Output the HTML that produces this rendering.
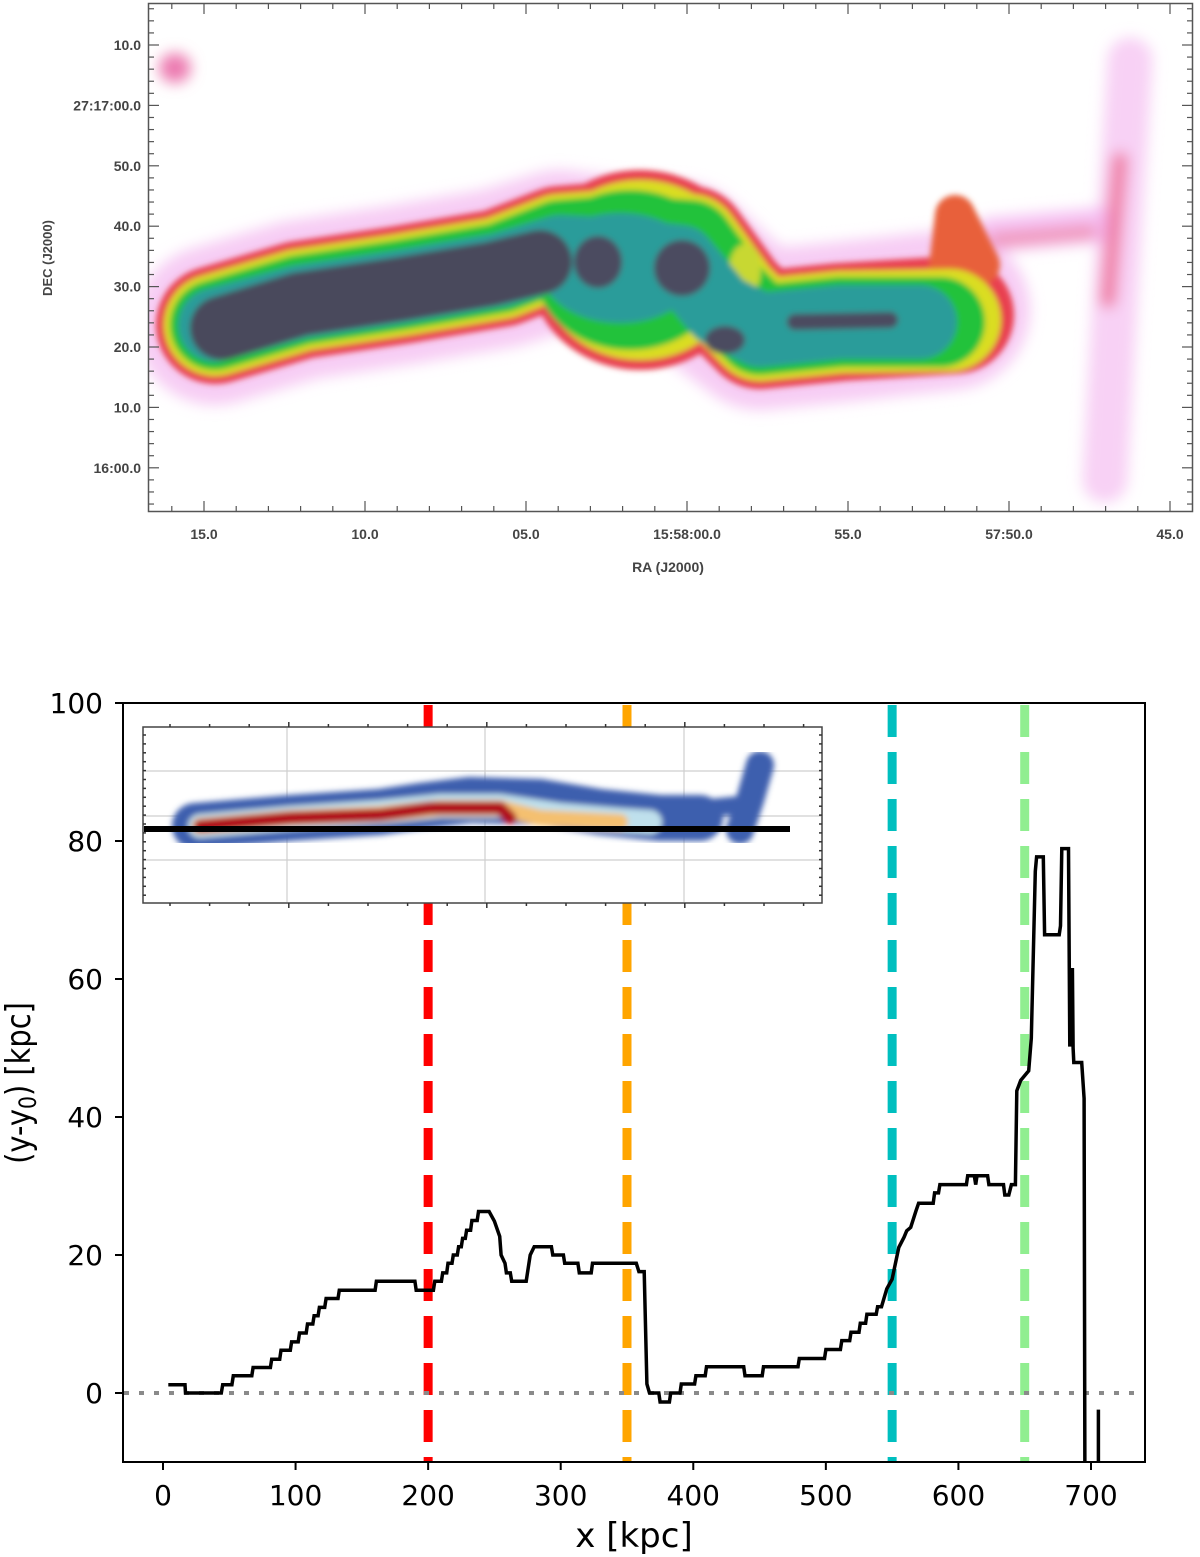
<!DOCTYPE html>
<html><head><meta charset="utf-8"><style>
html,body{margin:0;padding:0;background:#fff;width:1200px;height:1557px;overflow:hidden}
svg{display:block}
</style></head><body>
<svg id="fig" width="1200" height="1557" viewBox="0 0 1200 1557" xmlns="http://www.w3.org/2000/svg">
<defs>
<filter id="blur6" x="-20%" y="-20%" width="140%" height="140%"><feGaussianBlur stdDeviation="7"/></filter>
<filter id="blur3" x="-20%" y="-20%" width="140%" height="140%"><feGaussianBlur stdDeviation="3"/></filter>
<clipPath id="topclip"><rect x="149" y="4" width="1043" height="507"/></clipPath>
<clipPath id="axclip"><rect x="124" y="704" width="1020" height="757"/></clipPath>
<clipPath id="inclip"><rect x="144" y="728" width="677" height="174"/></clipPath>
</defs>

<!-- TOP RADIO MAP -->
<g>
<g clip-path="url(#topclip)" stroke-linecap="round" stroke-linejoin="round" fill="none">
 <g filter="url(#blur6)">
  <path d="M215,325 L300,300 L400,285 L500,268 L560,250 L620,258 L680,262 L720,300 L760,330 L840,322 L950,310" stroke="#f6c4f2" stroke-width="160" opacity="0.85"/>
  <path d="M1105,480 L1115,300 L1130,60" stroke="#f6c6f2" stroke-width="45" opacity="0.8"/>
  <path d="M990,235 L1100,225" stroke="#f4b4f0" stroke-width="35" opacity="0.8"/>
  <ellipse cx="175" cy="68" rx="16" ry="15" fill="#ec7ab0"/>
  <path d="M1108,300 L1120,160" stroke="#ec6a90" stroke-width="16" opacity="0.8"/>
  <path d="M995,240 L1090,232" stroke="#ee8aa8" stroke-width="14" opacity="0.8"/>
 </g>
 <g filter="url(#blur3)">
  <path d="M215,325 L300,300 L400,285 L500,268 L560,245 L620,240 L690,245 L730,300 L760,330 L840,322 L955,315" stroke="#e84050" stroke-width="118"/>
  <ellipse cx="640" cy="270" rx="110" ry="100" fill="#e84050"/>
  <path d="M945,300 L955,215 L980,265" stroke="#e8603a" stroke-width="40"/>
  <path d="M215,325 L300,300 L400,285 L500,268 L560,245 L620,240 L690,245 L730,300 L760,330 L840,322 L950,320" stroke="#dadd22" stroke-width="102"/>
  <ellipse cx="640" cy="270" rx="100" ry="90" fill="#dadd22"/>
  <path d="M215,325 L300,300 L400,285 L500,268 L560,245 L620,240 L690,245 L730,300 L760,330 L840,322 L940,322" stroke="#22c23a" stroke-width="90"/>
  <ellipse cx="630" cy="270" rx="95" ry="80" fill="#22c23a"/>
  <ellipse cx="745" cy="270" rx="16" ry="26" fill="#c8d830"/>
  <path d="M215,325 L300,302 L400,287 L500,270 L560,252 L620,255 L680,262 L720,310 L760,330 L840,322 L920,322" stroke="#2a9c9a" stroke-width="74"/>
  <ellipse cx="620" cy="268" rx="80" ry="55" fill="#2a9c9a"/>
  <path d="M222,328 L300,304 L400,289 L490,274 L540,262" stroke="#4a4a5c" stroke-width="64"/>
  <ellipse cx="598" cy="262" rx="24" ry="26" fill="#4c4c60"/>
  <ellipse cx="682" cy="268" rx="28" ry="28" fill="#4c4c60"/>
  <ellipse cx="725" cy="340" rx="20" ry="14" fill="#4c4c60"/>
  <path d="M795,322 L890,320" stroke="#4c4c60" stroke-width="16"/>
 </g>
</g>
<rect x="148.5" y="3.5" width="1044" height="508" fill="none" stroke="#555" stroke-width="1.5"/>
<g id="topticks" stroke="#555" stroke-width="1.2"></g>
<g font-family="Liberation Sans, sans-serif" font-weight="bold" font-size="14" fill="#444">
 <g text-anchor="middle" id="ralabels"></g>
 <g text-anchor="end" id="declabels"></g>
 <text x="668" y="572" text-anchor="middle">RA (J2000)</text>
 <text transform="translate(52,258) rotate(-90)" text-anchor="middle" font-size="13">DEC (J2000)</text>
</g>
</g>

<!-- BOTTOM CHART -->
<g>
 <g id="vlines" clip-path="url(#axclip)"></g>
 <line id="zeroline" stroke="#8a8a8a" stroke-width="4" stroke-dasharray="5,10"/>
 <g>
  <rect x="143" y="727" width="679" height="176" fill="#fff" stroke="#444" stroke-width="1.5"/>
  <g clip-path="url(#inclip)">
   <g stroke="#cfcfcf" stroke-width="1.2">
    <line x1="287" y1="727" x2="287" y2="903"/><line x1="485" y1="727" x2="485" y2="903"/><line x1="684" y1="727" x2="684" y2="903"/>
    <line x1="143" y1="771" x2="822" y2="771"/><line x1="143" y1="816" x2="822" y2="816"/><line x1="143" y1="860" x2="822" y2="860"/>
   </g>
   <g filter="url(#blur3)" stroke-linecap="round" stroke-linejoin="round" fill="none">
    <path d="M195,826 L290,818 L380,812 L420,806 L470,800 L540,802 L600,812 L660,818 L700,818" stroke="#3d5fae" stroke-width="46"/>
    <path d="M740,830 L750,800 L760,765" stroke="#3d5fae" stroke-width="28"/>
    <path d="M690,810 L740,805" stroke="#3d5fae" stroke-width="18"/>
    <path d="M200,826 L290,818 L380,812 L440,806 L500,806 L560,815 L620,820 L650,822" stroke="#bfe0ec" stroke-width="24"/>
    <path d="M200,826 L290,818 L380,814 L440,808 L500,808 L540,818 L620,822" stroke="#f4c070" stroke-width="16"/>
    <path d="M200,826 L290,818 L380,815 L430,808 L500,808 L510,818" stroke="#b0101e" stroke-width="13"/>
   </g>
   <line x1="143" y1="829" x2="790" y2="829" stroke="#000" stroke-width="6"/>
  </g>
  <g id="insetticks" stroke="#333" stroke-width="1.5"></g>
 </g>
 <path id="offsetline" fill="none" stroke="#000" stroke-width="3.5" stroke-linejoin="miter" clip-path="url(#axclip)"/>
 <rect x="123" y="703" width="1022" height="759" fill="none" stroke="#000" stroke-width="2"/>
 <g id="axticks" stroke="#000" stroke-width="2"></g>
 <g font-family="DejaVu Sans, sans-serif" font-size="28" fill="#000">
  <g id="xlabels" text-anchor="middle"></g>
  <g id="ylabels" text-anchor="end"></g>
  <text x="634" y="1547" text-anchor="middle" font-size="34">x [kpc]</text>
  <text transform="translate(30,1083) rotate(-90) scale(0.85,1)" text-anchor="middle" font-size="34">(y-y<tspan font-size="24" dy="6">0</tspan><tspan dy="-6">) [kpc]</tspan></text>
 </g>
</g>
</svg>
<script>
// ---- top map ticks ----
const raLabels=["15.0","10.0","05.0","15:58:00.0","55.0","57:50.0","45.0"];
const decLabels=["10.0","27:17:00.0","50.0","40.0","30.0","20.0","10.0","16:00.0"];
// ---- bottom chart data ----
const xTicks=[0,100,200,300,400,500,600,700];
const yTicks=[100,80,60,40,20,0];
const markerX=[200,350,550,650];
const markerColors=["#ff0000","#ffa500","#00bfbf","#90ee90"];
const profileX=[4,16.6,17,44,45,52,53,67,68,81,82,88,89,96,97,102,103,108,109,113,114,117,118,122,123,132,133,160,161,190,191,204,205,210,211,214,215,218,219,222,223,225,226,228,229,232,233,237,238,246,250,254,255,258,259,262,263,274,277,280,293,294,302,303,313,314,323,324,357,359,363,365,367,374,375,382,383,390,391,401,402,409,410,438,439,452,453,479,480,499,500,511,512,518,519,525,526,530,531,538,539,542,546,550,555,559,561,564,568,570,581,582,585,586,606,607,612,613,614,622,623,634,635,638,640,643,644,647,653,655,658,659,664,665,676,677,678,683,684,686,686.5,687,693,694.8,695.5];
const profileY=[1.2,1.2,0,0,1.2,1.2,2.5,2.5,3.7,3.7,4.9,4.9,6.2,6.2,7.4,7.4,8.7,8.7,10,10,11.2,11.2,12.4,12.4,13.7,13.7,14.9,14.9,16.2,16.2,14.9,14.9,16.2,16.2,17.4,17.4,18.8,18.8,20,20,21.2,21.2,22.4,22.4,23.6,23.6,25,25,26.3,26.3,24.9,22.7,20,18.8,17.4,17.4,16.2,16.2,20,21.2,21.2,20,20,18.8,18.8,17.4,17.4,18.8,18.8,17.6,17.6,1.3,0,0,-1.3,-1.3,0,0,1.3,1.3,2.5,2.5,3.8,3.8,2.5,2.5,3.8,3.8,5.0,5.0,6.3,6.3,7.6,7.6,8.8,8.8,10.1,10.1,11.4,11.4,12.5,12.5,15.1,16.5,21.1,22.6,23.5,24,26.4,27.5,27.5,29,29,30.2,30.2,31.5,31.5,30.2,31.5,31.5,30.2,30.2,28.7,28.7,30.2,30.2,43.8,45.3,46.7,51.4,75.6,77.7,77.7,66.4,66.4,67.7,78.9,78.9,50.2,61.6,50,47.9,47.9,42.7,-20];
const tailX=[705.6,705.6];
const tailY=[-2.4,-20];

const NS="http://www.w3.org/2000/svg";
function mk(tag,attrs,parent,text){const e=document.createElementNS(NS,tag);for(const k in attrs)e.setAttribute(k,attrs[k]);if(text!==undefined)e.textContent=text;parent.appendChild(e);return e;}
const X=v=>163+v*1.3257;
const Y=v=>1393-v*6.9;

// top ticks
const tt=document.getElementById('topticks');
const raPos=i=>204+i*161;
for(let i=-1;i<=7;i++){for(let m=0;m<5;m++){const x=raPos(i)+m*32.2;if(x<150||x>1192)continue;const L=m===0?10:5;
 mk('line',{x1:x,y1:511,x2:x,y2:511-L},tt);mk('line',{x1:x,y1:4,x2:x,y2:4+L},tt);}}
const decPos=i=>45+i*60.4;
for(let i=-1;i<=8;i++){for(let m=0;m<5;m++){const y=decPos(i)+m*12.08;if(y<5||y>510)continue;const L=m===0?10:5;
 mk('line',{x1:149,y1:y,x2:149+L,y2:y},tt);mk('line',{x1:1192,y1:y,x2:1192-L,y2:y},tt);}}
const ral=document.getElementById('ralabels');
raLabels.forEach((t,i)=>{const e=mk('text',{x:raPos(i),y:539},ral,t);

});
const decl=document.getElementById('declabels');
decLabels.forEach((t,i)=>{const e=mk('text',{x:141,y:decPos(i)+5},decl,t);

});

// marker lines
const vl=document.getElementById('vlines');
markerX.forEach((v,i)=>{const e=mk('line',{x1:X(v),y1:705,x2:X(v),y2:1462,stroke:markerColors[i],'stroke-width':9,'stroke-dasharray':'32,15'},vl);

});
const z=document.getElementById('zeroline');
z.setAttribute('x1',124);z.setAttribute('x2',1144);z.setAttribute('y1',Y(0));z.setAttribute('y2',Y(0));

// inset ticks
const it=document.getElementById('insetticks');
for(let x=170;x<822;x+=39.6){const maj=Math.abs(x-287)<5||Math.abs(x-485)<5||Math.abs(x-684)<5;const L=maj?5:3;
 mk('line',{x1:x,y1:727,x2:x,y2:727-L},it);mk('line',{x1:x,y1:903,x2:x,y2:903+L},it);}
for(let y=735;y<903;y+=8.9){mk('line',{x1:143,y1:y,x2:146,y2:y},it);mk('line',{x1:822,y1:y,x2:819,y2:y},it);}

// profile line
let d='';profileX.forEach((v,i)=>{d+=(i?'L':'M')+X(v).toFixed(1)+','+Y(profileY[i]).toFixed(1);});
tailX.forEach((v,i)=>{d+=(i?'L':'M')+X(v).toFixed(1)+','+Y(tailY[i]).toFixed(1);});
document.getElementById('offsetline').setAttribute('d',d);

// axes ticks + labels
const at=document.getElementById('axticks'),xl=document.getElementById('xlabels'),yl=document.getElementById('ylabels');
xTicks.forEach(v=>{mk('line',{x1:X(v),y1:1462,x2:X(v),y2:1470},at);
 const e=mk('text',{x:X(v),y:1505},xl,String(v));
 
 });
yTicks.forEach(v=>{mk('line',{x1:115,y1:Y(v),x2:123,y2:Y(v)},at);
 const e=mk('text',{x:103,y:Y(v)+10},yl,String(v));
 
 });
</script>
</body></html>
